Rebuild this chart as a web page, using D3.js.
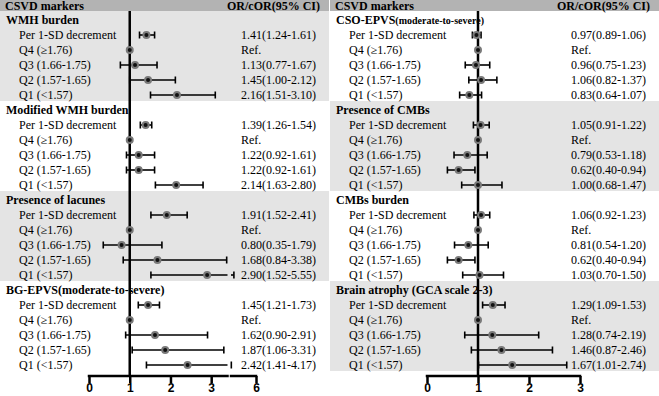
<!DOCTYPE html>
<html>
<head>
<meta charset="utf-8">
<script src="https://cdn.jsdelivr.net/npm/d3@7"></script>
<style>
  body { margin: 0; background: #fff; }
  svg { display: block; }
</style>
</head>
<body>
<div id="chart"></div>
<script>
// Row labels shared by every group
const rowLabels = ["Per 1-SD decrement", "Q4 (\u22651.76)", "Q3 (1.66-1.75)", "Q2 (1.57-1.65)", "Q1 (<1.57)"];

// Left panel
const leftGroups = ["WMH burden", "Modified WMH burden", "Presence of lacunes", "BG-EPVS(moderate-to-severe)"];
const leftOR = [
    [1.41, 1, 1.13, 1.45, 2.16],
    [1.39, 1, 1.22, 1.22, 2.14],
    [1.91, 1, 0.80, 1.68, 2.90],
    [1.45, 1, 1.62, 1.87, 2.42]
];
const leftLo = [
    [1.24, null, 0.77, 1.00, 1.51],
    [1.26, null, 0.92, 0.92, 1.63],
    [1.52, null, 0.35, 0.84, 1.52],
    [1.21, null, 0.90, 1.06, 1.41]
];
const leftHi = [
    [1.61, null, 1.67, 2.12, 3.10],
    [1.54, null, 1.61, 1.61, 2.80],
    [2.41, null, 1.79, 3.38, 5.55],
    [1.73, null, 2.91, 3.31, 4.17]
];
const leftTicks = [0, 1, 2, 3, 6];

// Right panel
const rightGroups = ["CSO-EPVS(moderate-to-severe)", "Presence of CMBs", "CMBs burden", "Brain atrophy (GCA scale 2-3)"];
const rightOR = [
    [0.97, 1, 0.96, 1.06, 0.83],
    [1.05, 1, 0.79, 0.62, 1.00],
    [1.06, 1, 0.81, 0.62, 1.03],
    [1.29, 1, 1.28, 1.46, 1.67]
];
const rightLo = [
    [0.89, null, 0.75, 0.82, 0.64],
    [0.91, null, 0.53, 0.40, 0.68],
    [0.92, null, 0.54, 0.40, 0.70],
    [1.09, null, 0.74, 0.87, 1.01]
];
const rightHi = [
    [1.06, null, 1.23, 1.37, 1.07],
    [1.22, null, 1.18, 0.94, 1.47],
    [1.23, null, 1.20, 0.94, 1.50],
    [1.53, null, 2.19, 2.46, 2.74]
];
const rightTicks = [0, 1, 2, 3];

const width = 659, height = 396;
const headerH = 11;
const rowH = 15;
const rowY0 = 20;          // centre of first group title
const axisY = 376;
const serif = "'Liberation Serif', 'Times New Roman', serif";
const sans = "'Liberation Sans', Arial, sans-serif";

const svg = d3.select("#chart").append("svg")
    .attr("width", width)
    .attr("height", height);

// left scale is broken after 3.4; the upper part is squeezed like the original
const xLeft = d3.scaleLinear().domain([0, 3.4, 4, 5.6, 6]).range([89, 227.5, 231, 234, 256]);
const xRight = d3.scaleLinear().domain([0, 3]).range([427, 580]);

const panels = [
    { x0: 0, w: 329, groups: leftGroups, or: leftOR, lo: leftLo, hi: leftHi, x: xLeft, ticks: leftTicks,
      bands: [0, 2], brk: [3.4, 4], smallParen: false },
    { x0: 330, w: 329, groups: rightGroups, or: rightOR, lo: rightLo, hi: rightHi, x: xRight, ticks: rightTicks,
      bands: [1, 3], brk: null, smallParen: true }
];

const fmt = d3.format(".2f");

panels.forEach(p => {
    const g = svg.append("g");

    // shaded group bands
    p.bands.forEach(b => {
        g.append("rect")
            .attr("x", p.x0)
            .attr("y", headerH + b * 6 * rowH)
            .attr("width", p.w)
            .attr("height", 6 * rowH)
            .attr("fill", "#e4e4e4");
    });

    // header
    g.append("rect")
        .attr("x", p.x0).attr("y", 0)
        .attr("width", p.w).attr("height", headerH)
        .attr("fill", "#b3b3b3");
    g.append("text")
        .attr("x", p.x0 + 5).attr("y", 9.5)
        .style("font", `bold 12px ${serif}`)
        .text("CSVD markers");
    g.append("text")
        .attr("x", p.x0 + 227).attr("y", 9.5)
        .style("font", `bold 12px ${serif}`)
        .text("OR/cOR(95% CI)");

    // reference line at OR = 1
    g.append("line")
        .attr("x1", p.x(1)).attr("x2", p.x(1))
        .attr("y1", headerH).attr("y2", axisY)
        .attr("stroke", "#000")
        .attr("stroke-width", 2.5);

    p.groups.forEach((name, gi) => {
        const ty = rowY0 + gi * 6 * rowH;

        // group title
        const t = g.append("text")
            .attr("x", p.x0 + 6).attr("y", ty)
            .attr("dominant-baseline", "central")
            .style("font", `bold 12px ${serif}`);
        const m = name.match(/^(.*?)(\(moderate-to-severe\))$/);
        if (m && p.smallParen) {
            t.append("tspan").text(m[1]);
            t.append("tspan").style("font-size", "10px").text(m[2]);
        } else {
            t.text(name);
        }

        rowLabels.forEach((lab, ri) => {
            const y = ty + (ri + 1) * rowH;
            const or = p.or[gi][ri], lo = p.lo[gi][ri], hi = p.hi[gi][ri];

            g.append("text")
                .attr("x", p.x0 + 19).attr("y", y)
                .attr("dominant-baseline", "central")
                .style("font", `12px ${serif}`)
                .text(lab);

            g.append("text")
                .attr("x", p.x0 + 241).attr("y", y)
                .attr("dominant-baseline", "central")
                .style("font", `12px ${serif}`)
                .text(lo == null ? "Ref." : `${fmt(or)}(${fmt(lo)}-${fmt(hi)})`);

            if (lo != null) {
                const segs = [];
                if (p.brk && hi > p.brk[0]) {
                    segs.push([lo, p.brk[0], false]);
                    segs.push([p.brk[1], hi, true]);
                } else {
                    segs.push([lo, hi, true]);
                }
                segs.forEach(([a, b, capEnd]) => {
                    g.append("line")
                        .attr("x1", p.x(a)).attr("x2", p.x(b))
                        .attr("y1", y).attr("y2", y)
                        .attr("stroke", "#000").attr("stroke-width", 1.6);
                    if (capEnd) {
                        g.append("line")
                            .attr("x1", p.x(b)).attr("x2", p.x(b))
                            .attr("y1", y - 3.5).attr("y2", y + 3.5)
                            .attr("stroke", "#000").attr("stroke-width", 1.6);
                    }
                });
                g.append("line")
                    .attr("x1", p.x(lo)).attr("x2", p.x(lo))
                    .attr("y1", y - 3.5).attr("y2", y + 3.5)
                    .attr("stroke", "#000").attr("stroke-width", 1.6);
            }

            g.append("circle")
                .attr("cx", p.x(or)).attr("cy", y)
                .attr("r", 3)
                .attr("fill", "#111")
                .attr("stroke", "#7a7a7a")
                .attr("stroke-width", 2);
        });
    });

    // x axis
    const axis = g.append("g")
        .attr("transform", `translate(0,${axisY})`)
        .call(d3.axisBottom(p.x).tickValues(p.ticks).tickSize(7).tickSizeOuter(0).tickFormat(d3.format("d")));
    axis.select(".domain").remove();
    axis.selectAll(".tick line").attr("stroke", "#000").attr("stroke-width", 2.5);
    axis.selectAll(".tick text")
        .attr("y", 9)
        .attr("dy", "0.6em")
        .style("font", `bold 12px ${sans}`)
        .attr("fill", "#000");

    const domSegs = p.brk ? [[p.ticks[0], p.brk[0]], [p.brk[1], p.ticks[p.ticks.length - 1]]]
                          : [[p.ticks[0], p.ticks[p.ticks.length - 1]]];
    domSegs.forEach(([a, b]) => {
        axis.append("line")
            .attr("x1", p.x(a) - 1.25).attr("x2", p.x(b) + 1.25)
            .attr("y1", 0).attr("y2", 0)
            .attr("stroke", "#000").attr("stroke-width", 2.5);
    });
});
</script>
</body>
</html>
